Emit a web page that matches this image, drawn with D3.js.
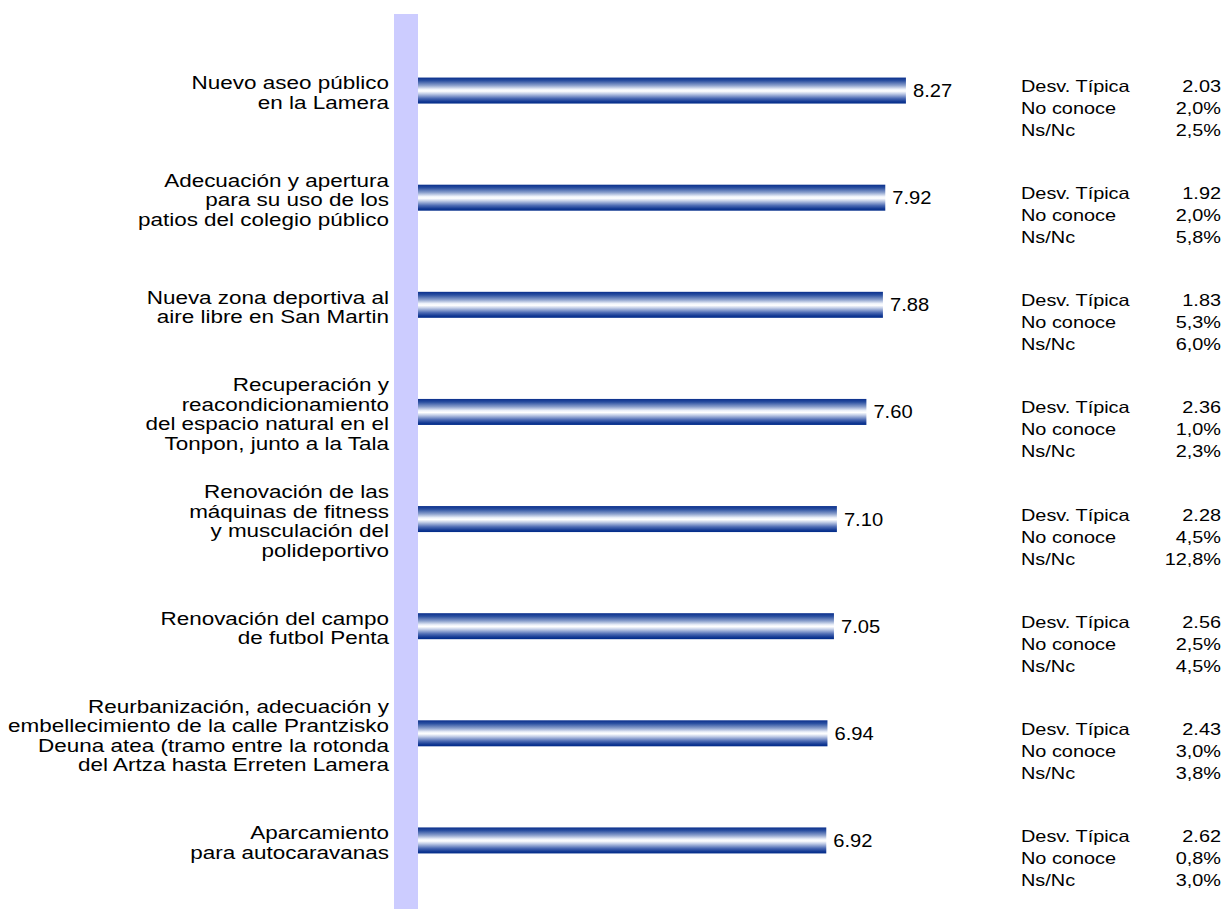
<!DOCTYPE html>
<html>
<head>
<meta charset="utf-8">
<script src="https://cdn.jsdelivr.net/npm/d3@7"></script>
<style>
  body { margin: 0; background: #fff; }
  svg text { font-family: "Liberation Sans", Arial, sans-serif; fill: #000; }
</style>
</head>
<body>
<div id="canvas"></div>
<script>
const w = 1229, h = 909;

// data
const categories = [
  ["Nuevo aseo público", "en la Lamera"],
  ["Adecuación y apertura", "para su uso de los", "patios del colegio público"],
  ["Nueva zona deportiva al", "aire libre en San Martin"],
  ["Recuperación y", "reacondicionamiento", "del espacio natural en el", "Tonpon, junto a la Tala"],
  ["Renovación de las", "máquinas de fitness", "y musculación del", "polideportivo"],
  ["Renovación del campo", "de futbol Penta"],
  ["Reurbanización, adecuación y", "embellecimiento de la calle Prantzisko", "Deuna atea (tramo entre la rotonda", "del Artza hasta Erreten Lamera"],
  ["Aparcamiento", "para autocaravanas"]
];
const means = [8.27, 7.92, 7.88, 7.60, 7.10, 7.05, 6.94, 6.92];
const desv = ["2.03", "1.92", "1.83", "2.36", "2.28", "2.56", "2.43", "2.62"];
const noConoce = ["2,0%", "2,0%", "5,3%", "1,0%", "4,5%", "2,5%", "3,0%", "0,8%"];
const nsnc = ["2,5%", "5,8%", "6,0%", "2,3%", "12,8%", "4,5%", "3,8%", "3,0%"];
const statLabels = ["Desv. Típica", "No conoce", "Ns/Nc"];

const rows = means.map((m, i) => ({
  i: i, lines: categories[i], mean: m,
  stats: [desv[i], noConoce[i], nsnc[i]]
}));

let svg = d3.select("#canvas")
  .append("svg")
    .attr("width", w)
    .attr("height", h)
    .attr("viewBox", [0, 0, w, h]);

const x = d3.scaleLinear().domain([0, 10]).range([418, 1008]);
const y = d3.scaleBand().domain(d3.range(rows.length)).range([37, 894]);
const barH = 26;
const cy = d => y(d.i) + y.bandwidth() / 2;

// bar gradient: dark blue edges, white core
const defs = svg.append("defs");
const grad = defs.append("linearGradient")
  .attr("id", "barGrad")
  .attr("x1", 0).attr("y1", 0).attr("x2", 0).attr("y2", 1);
[[0, "#0a2f8c"], [0.12, "#2a4fa0"], [0.3, "#8a9fcc"], [0.45, "#eef2fa"], [0.52, "#ffffff"],
 [0.62, "#c4cfe8"], [0.8, "#4d6bb4"], [0.92, "#143a94"], [1, "#002a88"]]
  .forEach(s => grad.append("stop").attr("offset", s[0]).attr("stop-color", s[1]));

// the light band along the category axis
svg.append("rect")
  .attr("x", 394).attr("y", 14)
  .attr("width", 24).attr("height", h - 14)
  .attr("fill", "#ccccff");

const g = svg.append("g");

g.selectAll("rect.bar")
    .data(rows)
  .enter().append("rect")
    .attr("class", "bar")
    .attr("x", x(0))
    .attr("y", d => cy(d) - barH / 2)
    .attr("width", d => x(d.mean) - x(0))
    .attr("height", barH)
    .attr("fill", "url(#barGrad)");

// text in the original is a bit stretched sideways
g.selectAll("text.val")
    .data(rows)
  .enter().append("text")
    .attr("class", "val")
    .attr("transform", d => "translate(" + (x(d.mean) + 7) + "," + (cy(d) + 6.5) + ") scale(1.12,1)")
    .attr("font-size", 18)
    .text(d => d.mean.toFixed(2));

// category labels, right aligned against the band
const lineH = 19.5;
g.selectAll("text.cat")
    .data(rows)
  .enter().append("text")
    .attr("class", "cat")
    .attr("text-anchor", "end")
    .attr("font-size", 18.5)
    .attr("transform", d => "translate(389," + (cy(d) - (d.lines.length - 1) * lineH / 2 + 8.5) + ") scale(1.215,1)")
    .selectAll("tspan")
    .data(d => d.lines)
  .enter().append("tspan")
    .attr("x", 0)
    .attr("dy", (l, j) => j === 0 ? 0 : lineH)
    .text(l => l);

// stats block on the right
const statG = g.selectAll("g.stat")
    .data(rows)
  .enter().append("g")
    .attr("class", "stat")
    .attr("transform", d => "translate(0," + cy(d) + ")");

statLabels.forEach((lab, k) => {
  statG.append("text")
    .attr("transform", "translate(1021," + (1.5 + k * 22) + ") scale(1.22,1)")
    .attr("font-size", 16.3)
    .text(lab);
  statG.append("text")
    .attr("transform", "translate(1221," + (1.5 + k * 22) + ") scale(1.22,1)")
    .attr("font-size", 16.3)
    .attr("text-anchor", "end")
    .text(d => d.stats[k]);
});
</script>
</body>
</html>
